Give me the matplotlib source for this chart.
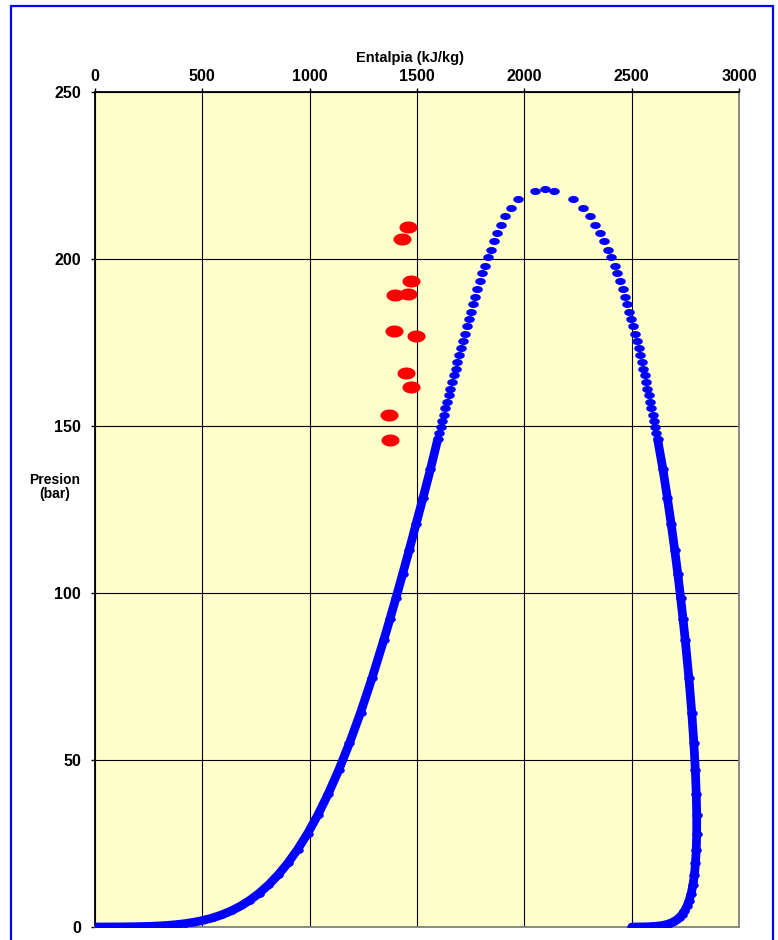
import numpy as np
import matplotlib
matplotlib.use('Agg')
import matplotlib.pyplot as plt
from matplotlib.path import Path
from matplotlib.patches import Rectangle

plt.rcParams['font.family'] = ['Liberation Sans', 'DejaVu Sans']

# curva de saturacion, zona baja (tabla de vapor): presion (bar), h liquido, h vapor (kJ/kg)
p_low = [0.006117, 0.008725, 0.01228, 0.01706, 0.02339, 0.03170, 0.04247, 0.05629,
         0.07385, 0.09595, 0.1235, 0.1576, 0.1995, 0.2504, 0.3120, 0.3860, 0.4742,
         0.5787, 0.7018, 0.8461, 1.0142, 1.4338, 1.9867, 2.7028, 3.6153, 4.7616,
         6.1823, 7.9218, 10.028, 12.552, 15.549, 19.077, 23.196, 27.971, 33.469,
         39.762, 46.923, 55.030, 64.166, 74.418, 85.879, 92.094, 98.650, 105.56,
         112.84, 120.51, 128.58, 137.07, 146.01]
hf_low = [0.0, 21.0, 42.0, 63.0, 83.9, 104.8, 125.7, 146.6, 167.5, 188.4, 209.3,
          230.3, 251.2, 272.1, 293.1, 314.0, 335.0, 356.0, 377.0, 398.1, 419.2,
          461.4, 503.8, 546.4, 589.2, 632.2, 675.5, 719.1, 763.1, 807.4, 852.3,
          897.6, 943.6, 990.1, 1037.5, 1085.7, 1135.0, 1185.3, 1236.9, 1290.0,
          1345.0, 1373.4, 1402.6, 1432.5, 1463.5, 1495.0, 1528.4, 1562.7, 1596.5]
hg_low = [2500.9, 2510.1, 2519.2, 2528.4, 2537.4, 2546.5, 2555.6, 2564.6, 2573.5,
          2582.4, 2591.3, 2600.1, 2608.8, 2617.5, 2626.1, 2634.6, 2643.0, 2651.4,
          2659.6, 2667.6, 2675.6, 2691.1, 2705.9, 2720.1, 2733.5, 2745.9, 2757.4,
          2767.9, 2777.2, 2785.3, 2792.0, 2797.3, 2800.9, 2802.9, 2803.0, 2800.9,
          2796.6, 2789.7, 2779.9, 2766.7, 2749.6, 2739.4, 2727.9, 2715.2, 2700.6,
          2684.4, 2666.0, 2645.6, 2620.8]

# zona alta, puntos separados
p_hi = [147.9, 149.6, 151.5, 153.3, 155.3, 157.2, 159.2, 161.2, 163.2, 165.2, 167.2,
        169.2, 171.3, 173.4, 175.5, 177.6, 179.8, 182.0, 184.2, 186.5, 188.7, 191.0,
        193.3, 195.7, 198.0, 200.5, 202.8, 205.3, 207.8, 210.2, 212.9, 215.4, 217.9]
hf_hi = [1604.0, 1610.3, 1618.0, 1625.8, 1632.0, 1639.8, 1647.5, 1655.3, 1661.5,
         1672.4, 1680.1, 1687.9, 1697.2, 1705.0, 1714.3, 1723.6, 1731.4, 1740.7,
         1751.6, 1762.4, 1771.7, 1781.0, 1791.9, 1804.3, 1816.8, 1829.2, 1843.2,
         1857.2, 1872.7, 1889.8, 1911.5, 1936.3, 1972.1]
hg_hi = [2614.9, 2610.2, 2604.0, 2597.8, 2591.6, 2585.4, 2579.2, 2573.0, 2568.3,
         2562.1, 2554.3, 2546.6, 2538.8, 2532.6, 2524.9, 2515.5, 2507.7, 2496.9,
         2487.6, 2478.3, 2469.0, 2458.1, 2445.7, 2433.2, 2420.8, 2405.3, 2389.8,
         2372.7, 2352.5, 2329.2, 2304.4, 2271.8, 2228.3]

# punto critico
h_top = [2048, 2098, 2140]
p_top = [220.4, 220.9, 220.4]

# puntos medidos (rojo)
h_med = [1459.6, 1431.7, 1470.5, 1397.5, 1459.6, 1392.9, 1493.8, 1447.2, 1472.1, 1369.6, 1374.2]
p_med = [209.7, 205.9, 193.5, 189.1, 189.4, 178.3, 176.9, 165.8, 161.8, 153.4, 145.8]

x_ticks = [0, 500, 1000, 1500, 2000, 2500, 3000]
y_ticks = [0, 50, 100, 150, 200, 250]

# marcador eliptico
t = np.linspace(0, 2 * np.pi, 41)
elipse = Path(np.column_stack([1.5 * np.cos(t), np.sin(t)]), closed=True)

fig = plt.figure(figsize=(7.78, 9.40), dpi=100)
ax = fig.add_axes([95 / 778, 13 / 940, 644 / 778, 835 / 940])
ax.set_facecolor('#FFFFCC')

ax.plot(hf_low, p_low, color='#0000FF', lw=6.3, solid_capstyle='round', zorder=3)
ax.plot(hg_low, p_low, color='#0000FF', lw=6.3, solid_capstyle='round', zorder=3)
for hs, ps in [(hf_low, p_low), (hg_low, p_low), (hf_hi, p_hi), (hg_hi, p_hi), (h_top, p_top)]:
    ax.plot(hs, ps, ls='none', marker=elipse, ms=7.6, color='#0000FF', mew=0, zorder=4)
ax.plot(h_med, p_med, ls='none', marker=elipse, ms=13, color='#FF0000', mew=0, zorder=5)

ax.set_xlim(0, 3000)
ax.set_ylim(0, 250)
ax.xaxis.tick_top()
ax.set_xticks(x_ticks)
ax.set_yticks(y_ticks)
ax.tick_params(axis='x', length=3, width=1, pad=2.5, labelsize=11.5)
ax.tick_params(axis='y', length=3, width=1, pad=7, labelsize=11.5)
for lab in ax.get_xticklabels() + ax.get_yticklabels():
    lab.set_fontweight('bold')
ax.grid(True, color='black', lw=0.8)
ax.set_axisbelow(True)
ax.spines['left'].set_color('black')
ax.spines['top'].set_color('black')
ax.spines['right'].set_color('#808080')
ax.spines['bottom'].set_color('#808080')
for s in ax.spines.values():
    s.set_linewidth(1.3)

fig.text(410 / 778, 1 - 58 / 940, 'Entalpia (kJ/kg)', ha='center', va='center',
         fontsize=10.5, fontweight='bold')
fig.text(55 / 778, 1 - 487 / 940, 'Presion\n(bar)', ha='center', va='center',
         fontsize=10, fontweight='bold', linespacing=0.95)

# marco azul
fig.patches.append(Rectangle((11 / 778, -0.05), 762 / 778, 1.05 - 6 / 940,
                             transform=fig.transFigure, fill=False,
                             edgecolor='#0000FF', lw=1.6))

fig.savefig('out.png', dpi=100)
